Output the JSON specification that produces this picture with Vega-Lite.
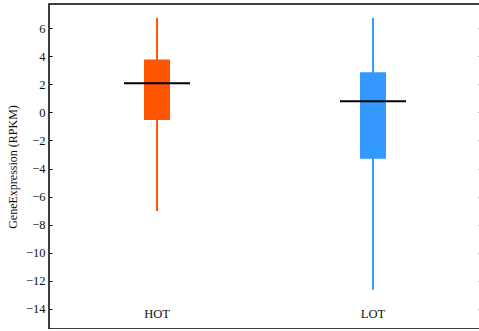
{
  "$schema": "https://vega.github.io/schema/vega-lite/v6.json",
  "width": 432,
  "height": 325,
  "autosize": {"type": "none"},
  "padding": {"left": 49, "top": 4, "right": 0, "bottom": 0},
  "background": "white",
  "config": {
    "view": {"stroke": "#000", "strokeWidth": 1.5},
    "font": "Liberation Serif",
    "axis": {"labelFont": "Liberation Serif", "titleFont": "Liberation Serif", "labelColor": "#111", "titleColor": "#111"}
  },
  "data": {
    "values": [
      {"group": "HOT", "min": -7.03, "q1": -0.55, "median": 2.07, "q3": 3.77, "max": 6.72},
      {"group": "LOT", "min": -12.63, "q1": -3.3, "median": 0.8, "q3": 2.85, "max": 6.72}
    ]
  },
  "encoding": {
    "x": {
      "field": "group",
      "type": "nominal",
      "scale": {"paddingInner": 0, "paddingOuter": 0},
      "axis": {"title": null, "domain": false, "ticks": false, "labelAngle": 0, "labelPadding": -22, "labelFontSize": 12.5}
    }
  },
  "layer": [
    {
      "mark": {"type": "rule", "strokeWidth": 2},
      "encoding": {
        "y": {
          "field": "min", "type": "quantitative",
          "scale": {"domain": [-15.43, 7.72], "nice": false, "zero": false},
          "axis": {"title": "GeneExpression (RPKM)", "titleFontSize": 12, "titleFontWeight": "normal", "titlePadding": 6, "values": [-14, -12, -10, -8, -6, -4, -2, 0, 2, 4, 6], "grid": false, "domain": false, "tickSize": -3, "tickColor": "#000", "labelPadding": 7, "labelFontSize": 12.5}
        },
        "y2": {"field": "max"},
        "color": {"field": "group", "type": "nominal", "scale": {"domain": ["HOT", "LOT"], "range": ["#FF5500", "#3399FF"]}, "legend": null}
      }
    },
    {
      "mark": {"type": "bar", "size": 26, "opacity": 1},
      "encoding": {
        "y": {"field": "q1", "type": "quantitative"},
        "y2": {"field": "q3"},
        "color": {"field": "group", "type": "nominal", "legend": null}
      }
    },
    {
      "mark": {"type": "tick", "size": 66, "thickness": 2, "color": "#000", "opacity": 1},
      "encoding": {
        "y": {
          "field": "median", "type": "quantitative",
          "axis": {"orient": "right", "title": null, "labels": false, "grid": false, "domain": false, "tickSize": -3, "tickColor": "#666", "values": [-14, -12, -10, -8, -6, -4, -2, 0, 2, 4, 6]}
        }
      }
    }
  ],
  "resolve": {"axis": {"y": "independent"}}
}
